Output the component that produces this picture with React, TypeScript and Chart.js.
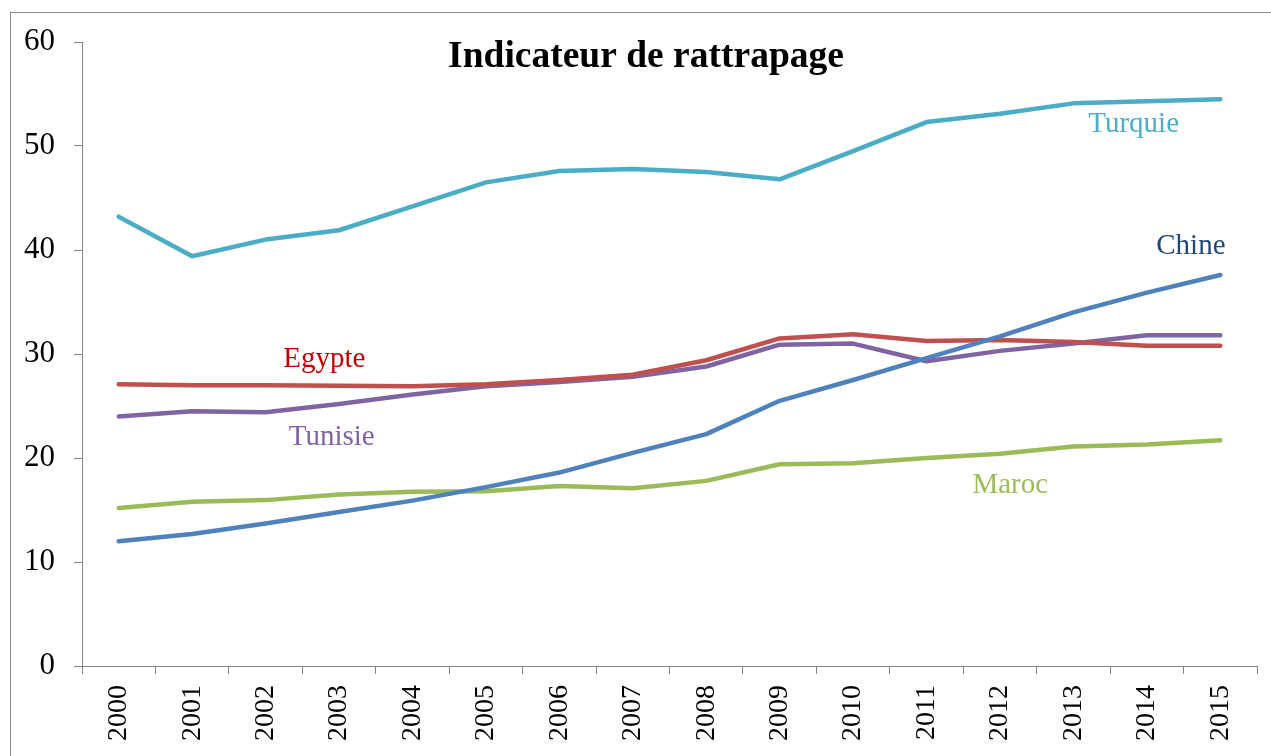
import React, { useEffect, useRef } from "react";
import { Chart, registerables } from "chart.js";

Chart.register(...registerables);

const years = ["2000","2001","2002","2003","2004","2005","2006","2007","2008","2009","2010","2011","2012","2013","2014","2015"];
const turquie = [43.2, 39.4, 41.0, 41.9, 44.2, 46.5, 47.6, 47.8, 47.5, 46.8, 49.5, 52.3, 53.1, 54.1, 54.3, 54.5];
const chine = [12.0, 12.7, 13.7, 14.8, 15.9, 17.2, 18.6, 20.5, 22.3, 25.5, 27.5, 29.6, 31.7, 34.0, 35.9, 37.6];
const egypte = [27.1, 27.0, 27.0, 26.95, 26.9, 27.1, 27.5, 28.0, 29.4, 31.5, 31.9, 31.25, 31.35, 31.15, 30.8, 30.8];
const tunisie = [24.0, 24.5, 24.4, 25.2, 26.1, 26.9, 27.3, 27.8, 28.8, 30.9, 31.0, 29.3, 30.3, 31.0, 31.8, 31.8];
const maroc = [15.2, 15.8, 15.95, 16.5, 16.75, 16.8, 17.3, 17.1, 17.8, 19.4, 19.5, 20.0, 20.4, 21.1, 21.3, 21.7];
const yTicks = [0, 10, 20, 30, 40, 50, 60];

const seriesNames = ["Turquie", "Chine", "Egypte", "Tunisie", "Maroc"];
const lineColors = ["#4BACC6", "#4F81BD", "#C0504D", "#8064A2", "#9BBB59"];
const labelColors = ["#4BACC6", "#1F497D", "#C00000", "#8064A2", "#9BBB59"];
// label anchors in data coordinates (category index, value)
const labelIdx = [13.82, 14.6, 2.8, 2.9, 12.14];
const labelVal = [52.1, 40.3, 29.5, 22.0, 17.4];

const title = "Indicateur de rattrapage";
const FONT = "'Liberation Serif', 'Times New Roman', serif";

export default function App() {
  const ref = useRef<HTMLCanvasElement | null>(null);
  useEffect(() => {
    const canvas = ref.current;
    if (!canvas) return;
    const data = [turquie, chine, egypte, tunisie, maroc];
    const frame = {
      id: "frame",
      beforeDraw(chart: any) {
        const ctx = chart.ctx;
        ctx.save();
        ctx.fillStyle = "#ffffff";
        ctx.fillRect(0, 0, chart.width, chart.height);
        ctx.strokeStyle = "#8C8C8C";
        ctx.lineWidth = 1;
        ctx.strokeRect(10.5, 12.5, chart.width + 20, chart.height + 20);
        ctx.restore();
      },
      afterDraw(chart: any) {
        const ctx = chart.ctx;
        const xs = chart.scales.x;
        const ys = chart.scales.y;
        ctx.save();
        ctx.textAlign = "center";
        ctx.textBaseline = "middle";
        ctx.fillStyle = "#000";
        ctx.font = `bold 37.5px ${FONT}`;
        ctx.fillText(title, 646, 57);
        ctx.font = `29px ${FONT}`;
        seriesNames.forEach((n, i) => {
          ctx.fillStyle = labelColors[i];
          ctx.fillText(n, xs.getPixelForValue(labelIdx[i]), ys.getPixelForValue(labelVal[i]));
        });
        ctx.restore();
      },
    };
    const chart = new Chart(canvas, {
      type: "line",
      data: {
        labels: years,
        datasets: seriesNames.map((n, i) => ({
          label: n,
          data: data[i],
          borderColor: lineColors[i],
          backgroundColor: lineColors[i],
          borderWidth: 4.5,
          pointRadius: 0,
          tension: 0,
          borderCapStyle: "round",
          borderJoinStyle: "round",
          fill: false,
        })),
      },
      options: {
        animation: false,
        responsive: false,
        layout: { padding: { top: 42, right: 14, left: 0, bottom: 0 } },
        plugins: { legend: { display: false }, title: { display: false }, tooltip: { enabled: false } },
        scales: {
          x: {
            offset: true,
            grid: { display: true, offset: true, drawOnChartArea: false, tickLength: 8, color: "#868686" },
            border: { color: "#868686", width: 1 },
            ticks: { minRotation: 90, maxRotation: 90, autoSkip: false, padding: 11, color: "#000", font: { family: FONT, size: 28 } },
            afterFit: (s: any) => { s.height = 90; },
          },
          y: {
            min: 0,
            max: 60,
            afterBuildTicks: (s: any) => { s.ticks = yTicks.map((v) => ({ value: v })); },
            grid: { display: true, drawOnChartArea: false, tickLength: 8, color: "#868686" },
            border: { color: "#868686", width: 1 },
            ticks: { padding: 19, color: "#000", font: { family: FONT, size: 31 } },
            afterFit: (s: any) => { s.width = 82; },
          },
        },
      },
      plugins: [frame],
    } as any);
    return () => chart.destroy();
  }, []);
  return (
    <div style={{ position: "fixed", left: 0, top: 0, width: 1271, height: 756, background: "#fff" }}>
      <canvas ref={ref} width={1271} height={756} style={{ display: "block" }} />
    </div>
  );
}
